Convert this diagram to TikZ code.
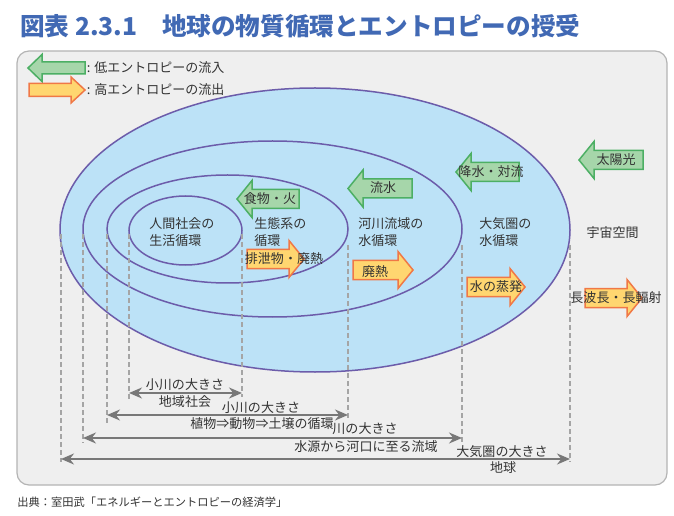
\documentclass[tikz,border=0pt]{standalone}
\usepackage{fontspec}
\setmainfont{Noto Sans CJK JP}
\usetikzlibrary{arrows.meta}

\begin{document}
\begin{tikzpicture}[
    ring/.style={line width=0.030cm, draw=r108g92b170, fill=r188g226b247},
    guide/.style={line width=0.024cm, draw=r165g165b165, dash pattern=on 0.10cm off 0.06cm},
    span/.style={line width=0.036cm, draw=r120g120b120, >={Stealth[length=0.26cm,width=0.22cm]}, <->},
    inflow/.style={line width=0.030cm, draw=r76g175b100, fill=r166g214b170},
    outflow/.style={line width=0.030cm, draw=r240g120b70, fill=r255g214b112},
    lbl/.style={inner sep=0pt, text=r51g51b51, font=\fontsize{7.4}{9.7}\selectfont},
  ]
                    \useasboundingbox (0,0) rectangle (13.48,10.30);
                    {\fontsize{7.4}{9.7}\selectfont

                    % Changing colors
                    \definecolor{r108g92b170}{rgb}{0.423529,0.360784,0.666667}%
                    \definecolor{r188g226b247}{rgb}{0.737255,0.886275,0.968627}%
                    \definecolor{r165g165b165}{rgb}{0.647059,0.647059,0.647059}%
                    \definecolor{r120g120b120}{rgb}{0.470588,0.470588,0.470588}%
                    \definecolor{r76g175b100}{rgb}{0.298039,0.686275,0.392157}%
                    \definecolor{r166g214b170}{rgb}{0.650980,0.839216,0.666667}%
                    \definecolor{r240g120b70}{rgb}{0.941176,0.470588,0.274510}%
                    \definecolor{r255g214b112}{rgb}{1.000000,0.839216,0.439216}%
                    \definecolor{r51g51b51}{rgb}{0.200000,0.200000,0.200000}%
                    \definecolor{r239g239b239}{rgb}{0.937255,0.937255,0.937255}%
                    \definecolor{r180g180b180}{rgb}{0.705882,0.705882,0.705882}%
                    \definecolor{r65g105b180}{rgb}{0.254902,0.411765,0.705882}%

                    % Drawing title
                    \node [anchor=west, inner sep=0pt, text=r65g105b180, font=\fontsize{14.0}{16}\selectfont\bfseries] (title) at (0.40,9.78) {図表 2.3.1　地球の物質循環とエントロピーの授受};%

                    % Filling panel
                    \filldraw [rounded corners=0.24cm, fill=r239g239b239, draw=r180g180b180, line width=0.024cm] (0.34,0.60) rectangle (13.34,9.28);%

                    % Drawing legend arrows
                    \filldraw [inflow] (0.56,8.94) -- ++(0.28,0.27) -- ++(0,-0.15) -- ++(0.86,0) -- ++(0,-0.24) -- ++(-0.86,0) -- ++(0,-0.15) -- cycle;%
                    \node [lbl, anchor=west] (lowkey) at (1.73,8.94) {: 低エントロピーの流入};%
                    \filldraw [outflow] (1.70,8.50) -- ++(-0.28,0.26) -- ++(0,-0.13) -- ++(-0.84,0) -- ++(0,-0.26) -- ++(0.84,0) -- ++(0,-0.13) -- cycle;%
                    \node [lbl, anchor=west] (highkey) at (1.73,8.50) {: 高エントロピーの流出};%

                    % Filling ellipses earth, basin, ecosystem, society
                    \filldraw [ring] (6.30,5.70) ellipse (5.10 and 2.84);%
                    \filldraw [ring] (5.45,5.72) ellipse (3.79 and 1.76);%
                    \filldraw [ring] (4.55,5.72) ellipse (2.41 and 1.08);%
                    \filldraw [ring] (3.71,5.69) ellipse (1.13 and 0.69);%

                    % Drawing dashed guides
                    \draw [guide] (1.22,5.62) -- (1.22,1.06);%
                    \draw [guide] (1.66,5.62) -- (1.66,1.44);%
                    \draw [guide] (2.14,5.62) -- (2.14,1.84);%
                    \draw [guide] (2.58,5.62) -- (2.58,2.30);%
                    \draw [guide] (4.84,5.62) -- (4.84,2.36);%
                    \draw [guide] (6.96,5.40) -- (6.96,1.94);%
                    \draw [guide] (9.24,5.40) -- (9.24,1.46);%
                    \draw [guide] (11.40,5.40) -- (11.40,1.06);%

                    % Marking span ends
                    \coordinate (townL) at (2.58,2.44);%
                    \coordinate (townR) at (4.84,2.44);%
                    \coordinate (brookL) at (2.14,2.00);%
                    \coordinate (brookR) at (6.96,2.00);%
                    \coordinate (riverL) at (1.66,1.54);%
                    \coordinate (riverR) at (9.24,1.54);%
                    \coordinate (airL) at (1.22,1.12);%
                    \coordinate (airR) at (11.40,1.12);%

                    % Drawing spans
                    \draw [span] (townL) -- (townR);%
                    \draw [span] (brookL) -- (brookR);%
                    \draw [span] (riverL) -- (riverR);%
                    \draw [span] (airL) -- (airR);%

                    % Drawing span labels
                    \node [lbl] (townup) at (3.70,2.60) {小川の大きさ};%
                    \node [lbl] (towndown) at (3.70,2.26) {地域社会};%
                    \node [lbl] (brookup) at (5.22,2.14) {小川の大きさ};%
                    \node [lbl] (brookdown) at (5.24,1.82) {植物⇒動物⇒土壌の循環};%
                    \node [lbl] (riverup) at (7.30,1.72) {川の大きさ};%
                    \node [lbl] (riverdown) at (7.32,1.36) {水源から河口に至る流域};%
                    \node [lbl] (airup) at (10.04,1.26) {大気圏の大きさ};%
                    \node [lbl] (airdown) at (10.06,0.94) {地球};%

                    % Drawing ring labels
                    \node [lbl, anchor=west, align=left] (society) at (2.98,5.65) {人間社会の\\生活循環};%
                    \node [lbl, anchor=west, align=left] (ecosystem) at (5.08,5.65) {生態系の\\循環};%
                    \node [lbl, anchor=west, align=left] (basin) at (7.16,5.65) {河川流域の\\水循環};%
                    \node [lbl, anchor=west, align=left] (atmosphere) at (9.58,5.65) {大気圏の\\水循環};%
                    \node [lbl] (space) at (12.25,5.64) {宇宙空間};%

                    % Drawing inflow arrows
                    \filldraw [inflow] (4.74,6.32) -- ++(0.30,0.37) -- ++(0,-0.18) -- ++(0.94,0) -- ++(0,-0.38) -- ++(-0.94,0) -- ++(0,-0.18) -- cycle;%
                    \node [lbl] (food) at (5.40,6.32) {食物・火};%
                    \filldraw [inflow] (6.96,6.53) -- ++(0.30,0.37) -- ++(0,-0.18) -- ++(0.98,0) -- ++(0,-0.38) -- ++(-0.98,0) -- ++(0,-0.18) -- cycle;%
                    \node [lbl] (runoff) at (7.66,6.54) {流水};%
                    \filldraw [inflow] (9.12,6.86) -- ++(0.30,0.37) -- ++(0,-0.18) -- ++(0.96,0) -- ++(0,-0.38) -- ++(-0.96,0) -- ++(0,-0.18) -- cycle;%
                    \node [lbl] (rain) at (9.82,6.86) {降水・対流};%
                    \filldraw [inflow] (11.58,7.10) -- ++(0.30,0.37) -- ++(0,-0.18) -- ++(0.98,0) -- ++(0,-0.38) -- ++(-0.98,0) -- ++(0,-0.18) -- cycle;%
                    \node [lbl] (sun) at (12.32,7.10) {太陽光};%

                    % Drawing outflow arrows
                    \filldraw [outflow] (6.08,5.12) -- ++(-0.30,0.37) -- ++(0,-0.18) -- ++(-0.84,0) -- ++(0,-0.38) -- ++(0.84,0) -- ++(0,-0.18) -- cycle;%
                    \node [lbl] (waste) at (5.68,5.12) {排泄物・廃熱};%
                    \filldraw [outflow] (8.26,4.90) -- ++(-0.30,0.37) -- ++(0,-0.18) -- ++(-0.90,0) -- ++(0,-0.38) -- ++(0.90,0) -- ++(0,-0.18) -- cycle;%
                    \node [lbl] (heat) at (7.50,4.86) {廃熱};%
                    \filldraw [outflow] (10.50,4.56) -- ++(-0.30,0.37) -- ++(0,-0.18) -- ++(-0.86,0) -- ++(0,-0.38) -- ++(0.86,0) -- ++(0,-0.18) -- cycle;%
                    \node [lbl] (vapour) at (9.92,4.56) {水の蒸発};%
                    \filldraw [outflow] (12.84,4.34) -- ++(-0.30,0.37) -- ++(0,-0.18) -- ++(-0.84,0) -- ++(0,-0.38) -- ++(0.84,0) -- ++(0,-0.18) -- cycle;%
                    \node [lbl] (longwave) at (12.32,4.34) {長波長・長輻射};%

                    % Drawing source line
                    \node [anchor=west, inner sep=0pt, text=r51g51b51, font=\fontsize{6.4}{8}\selectfont] (source) at (0.34,0.26) {出典：室田武「エネルギーとエントロピーの経済学」};%
                    }
\end{tikzpicture}
\end{document}
